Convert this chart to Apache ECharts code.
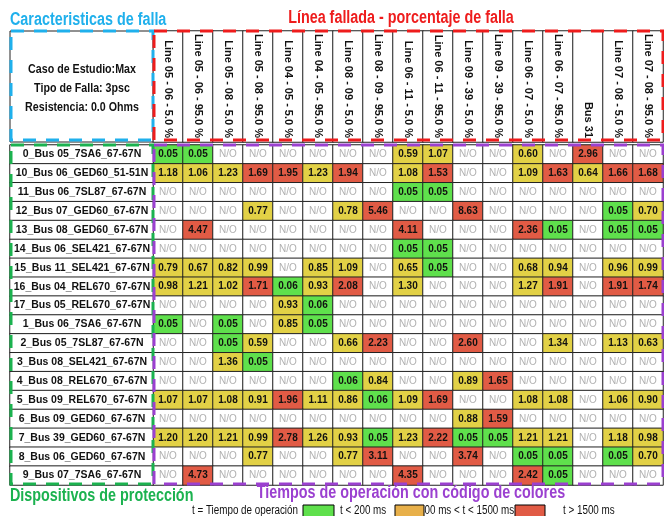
<!DOCTYPE html>
<html>
<head>
<meta charset="utf-8">
<script src="https://cdn.jsdelivr.net/npm/echarts@6/dist/echarts.min.js"></script>
<style>
  html, body { margin: 0; padding: 0; background: #fff; }
  #main { width: 664px; height: 516px; }
</style>
</head>
<body>
<div id="main"></div>
<script>
// columnas: linea fallada y porcentaje de falla
var lineas = [
  'Line 05 - 06 - 5.0 %', 'Line 05 - 06 - 95.0 %', 'Line 05 - 08 - 5.0 %', 'Line 05 - 08 - 95.0 %',
  'Line 04 - 05 - 5.0 %', 'Line 04 - 05 - 95.0 %', 'Line 08 - 09 - 5.0 %', 'Line 08 - 09 - 95.0 %',
  'Line 06 - 11 - 5.0 %', 'Line 06 - 11 - 95.0 %', 'Line 09 - 39 - 5.0 %', 'Line 09 - 39 - 95.0 %',
  'Line 06 - 07 - 5.0 %', 'Line 06 - 07 - 95.0 %', 'Bus 31', 'Line 07 - 08 - 5.0 %', 'Line 07 - 08 - 95.0 %'
];

// filas: dispositivos de proteccion
var dispositivos = [
  '0_Bus 05_7SA6_67-67N', '10_Bus 06_GED60_51-51N', '11_Bus 06_7SL87_67-67N', '12_Bus 07_GED60_67-67N',
  '13_Bus 08_GED60_67-67N', '14_Bus 06_SEL421_67-67N', '15_Bus 11_SEL421_67-67N', '16_Bus 04_REL670_67-67N',
  '17_Bus 05_REL670_67-67N', '1_Bus 06_7SA6_67-67N', '2_Bus 05_7SL87_67-67N', '3_Bus 08_SEL421_67-67N',
  '4_Bus 08_REL670_67-67N', '5_Bus 09_REL670_67-67N', '6_Bus 09_GED60_67-67N', '7_Bus 39_GED60_67-67N',
  '8_Bus 06_GED60_67-67N', '9_Bus 07_7SA6_67-67N'
];

// tiempos de operacion (s), null = N/O
var tiempos = [
  [0.05, 0.05, null, null, null, null, null, null, 0.59, 1.07, null, null, 0.60, null, 2.96, null, null],
  [1.18, 1.06, 1.23, 1.69, 1.95, 1.23, 1.94, null, 1.08, 1.53, null, null, 1.09, 1.63, 0.64, 1.66, 1.68],
  [null, null, null, null, null, null, null, null, 0.05, 0.05, null, null, null, null, null, null, null],
  [null, null, null, 0.77, null, null, 0.78, 5.46, null, null, 8.63, null, null, null, null, 0.05, 0.70],
  [null, 4.47, null, null, null, null, null, null, 4.11, null, null, null, 2.36, 0.05, null, 0.05, 0.05],
  [null, null, null, null, null, null, null, null, 0.05, 0.05, null, null, null, null, null, null, null],
  [0.79, 0.67, 0.82, 0.99, null, 0.85, 1.09, null, 0.65, 0.05, null, null, 0.68, 0.94, null, 0.96, 0.99],
  [0.98, 1.21, 1.02, 1.71, 0.06, 0.93, 2.08, null, 1.30, null, null, null, 1.27, 1.91, null, 1.91, 1.74],
  [null, null, null, null, 0.93, 0.06, null, null, null, null, null, null, null, null, null, null, null],
  [0.05, null, 0.05, null, 0.85, 0.05, null, null, null, null, null, null, null, null, null, null, null],
  [null, null, 0.05, 0.59, null, null, 0.66, 2.23, null, null, 2.60, null, null, 1.34, null, 1.13, 0.63],
  [null, null, 1.36, 0.05, null, null, null, null, null, null, null, null, null, null, null, null, null],
  [null, null, null, null, null, null, 0.06, 0.84, null, null, 0.89, 1.65, null, null, null, null, null],
  [1.07, 1.07, 1.08, 0.91, 1.96, 1.11, 0.86, 0.06, 1.09, 1.69, null, null, 1.08, 1.08, null, 1.06, 0.90],
  [null, null, null, null, null, null, null, null, null, null, 0.88, 1.59, null, null, null, null, null],
  [1.20, 1.20, 1.21, 0.99, 2.78, 1.26, 0.93, 0.05, 1.23, 2.22, 0.05, 0.05, 1.21, 1.21, null, 1.18, 0.98],
  [null, null, null, 0.77, null, null, 0.77, 3.11, null, null, 3.74, null, 0.05, 0.05, null, 0.05, 0.70],
  [null, 4.73, null, null, null, null, null, null, 4.35, null, null, null, 2.42, 0.05, null, null, null]
];

var SANS = '"Liberation Sans", Arial, sans-serif';

var celdas = [];
tiempos.forEach(function (fila, j) {
  fila.forEach(function (v, i) {
    celdas.push([i, j, v === null ? -1 : v]);
  });
});
var cabecera = lineas.map(function (l, i) { return [i, 0, -1]; });
var etiquetas = dispositivos.map(function (d, j) { return [0, j, -1]; });

var myChart = echarts.init(document.getElementById('main'));

function marco(x, y, w, h, color) {
  return {
    type: 'rect', z: 50, silent: true,
    shape: { x: x, y: y, width: w, height: h },
    style: { fill: null, stroke: color, lineWidth: 3, lineDash: [13, 10] }
  };
}
// texto estrecho (tipo Arial Narrow) con escala horizontal
function texto(x, y, t, size, color, weight, align) {
  return {
    type: 'text', z: 60, x: x, y: y, scaleX: 0.82,
    style: {
      text: t, fill: color, fontSize: size, fontWeight: weight || 'bold',
      fontFamily: SANS, align: align || 'center', verticalAlign: 'middle'
    }
  };
}
function caja(x, w, color) {
  return {
    type: 'rect', z: 62,
    shape: { x: x, y: 505, width: w, height: 16 },
    style: { fill: color, stroke: '#000', lineWidth: 1 }
  };
}

var option = {
  backgroundColor: '#fff',
  animation: false,
  grid: [
    { left: 153, top: 145, width: 510, height: 340 },
    { left: 153, top: 31, width: 510, height: 111 },
    { left: 10, top: 145, width: 143, height: 340 }
  ],
  xAxis: [
    {
      gridIndex: 0, type: 'category', data: lineas, position: 'top', z: 10,
      axisLine: { show: false }, axisTick: { show: false }, splitLine: { show: false },
      axisLabel: { rotate: 90, margin: 7, interval: 0, fontSize: 11, fontWeight: 'bold', fontFamily: SANS, color: '#111' }
    },
    { gridIndex: 1, type: 'category', data: lineas, show: false },
    { gridIndex: 2, type: 'category', data: [''], show: false }
  ],
  yAxis: [
    {
      gridIndex: 0, type: 'category', data: dispositivos, inverse: true, z: 10,
      axisLine: { show: false }, axisTick: { show: false }, splitLine: { show: false },
      axisLabel: { margin: 71, align: 'center', interval: 0, fontSize: 10.5, fontWeight: 'bold', fontFamily: SANS, color: '#111' }
    },
    { gridIndex: 1, type: 'category', data: [''], show: false },
    { gridIndex: 2, type: 'category', data: dispositivos, inverse: true, show: false }
  ],
  visualMap: {
    type: 'piecewise', show: false, dimension: 2, seriesIndex: [0, 1, 2],
    pieces: [
      { lt: 0, color: '#ffffff' },
      { gte: 0, lt: 0.2, color: '#5fe04c' },
      { gte: 0.2, lt: 1.5, color: '#e2d146' },
      { gte: 1.5, color: '#e15b45' }
    ]
  },
  series: [
    {
      type: 'heatmap', xAxisIndex: 0, yAxisIndex: 0, data: celdas,
      itemStyle: { borderColor: '#222', borderWidth: 1 },
      emphasis: { disabled: true },
      label: {
        show: true,
        formatter: function (p) {
          var v = p.value[2];
          return v < 0 ? '{na|N/O}' : '{v|' + v.toFixed(2) + '}';
        },
        rich: {
          v: { fontSize: 10, fontWeight: 'bold', fontFamily: SANS, color: '#111' },
          na: { fontSize: 10, fontFamily: SANS, color: '#b0b0b0' }
        }
      }
    },
    {
      type: 'heatmap', xAxisIndex: 1, yAxisIndex: 1, data: cabecera,
      itemStyle: { borderColor: '#222', borderWidth: 1 }, emphasis: { disabled: true }
    },
    {
      type: 'heatmap', xAxisIndex: 2, yAxisIndex: 2, data: etiquetas,
      itemStyle: { borderColor: '#222', borderWidth: 1 }, emphasis: { disabled: true }
    }
  ],
  graphic: [
    {
      type: 'rect', z: 5, shape: { x: 10, y: 31, width: 143, height: 111 },
      style: { fill: '#fff', stroke: '#222', lineWidth: 1 }
    },
    texto(82, 69, 'Caso de Estudio:Max', 13, '#111'),
    texto(82, 88, 'Tipo de Falla: 3psc', 13, '#111'),
    texto(82, 107, 'Resistencia: 0.0 Ohms', 13, '#111'),
    marco(11, 31, 142, 109, '#1fb0ec'),
    marco(154, 31, 509, 109, '#ee1c1c'),
    marco(11, 145, 142, 339, '#1bb24f'),
    marco(154, 145, 509, 339, '#9b40d0'),
    texto(10, 20, 'Caracteristicas de falla', 17.5, '#1fb0ec', 'bold', 'left'),
    texto(401, 18, 'Línea fallada - porcentaje de falla', 17.5, '#ee1c1c'),
    texto(10, 496, 'Dispositivos de protección', 17.5, '#1bb24f', 'bold', 'left'),
    texto(411, 493, 'Tiempos de operación con código de colores', 17.5, '#9b40d0'),
    texto(298, 511, 't = Tiempo de operación', 12, '#111', 'normal', 'right'),
    caja(303, 31, '#5fe04c'),
    texto(340, 511, 't < 200 ms', 12, '#111', 'normal', 'left'),
    texto(419, 511, '200 ms < t < 1500 ms', 12, '#111', 'normal', 'left'),
    caja(395, 29, '#e8b04a'),
    caja(515, 30, '#e15b45'),
    texto(563, 511, 't > 1500 ms', 12, '#111', 'normal', 'left')
  ]
};

myChart.setOption(option);
</script>
</body>
</html>
